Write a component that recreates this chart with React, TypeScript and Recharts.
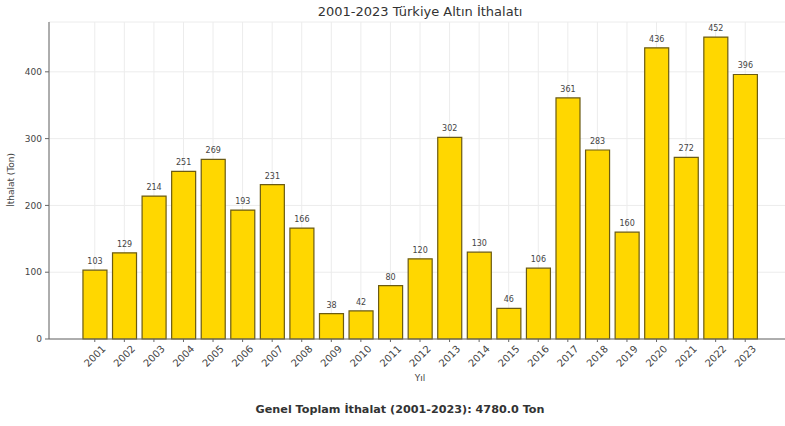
import { Bar, BarChart, CartesianGrid, LabelList, XAxis, YAxis } from "recharts";

const years = [
  "2001", "2002", "2003", "2004", "2005", "2006", "2007", "2008", "2009", "2010", "2011", "2012",
  "2013", "2014", "2015", "2016", "2017", "2018", "2019", "2020", "2021", "2022", "2023",
];
const imports = [
  103, 129, 214, 251, 269, 193, 231, 166, 38, 42, 80, 120,
  302, 130, 46, 106, 361, 283, 160, 436, 272, 452, 396,
];
const yTicks = [0, 100, 200, 300, 400];

const total = imports.reduce((a, b) => a + b, 0);
const data = years.map((year, i) => ({ year, value: imports[i] }));

const FONT = "'DejaVu Sans', sans-serif";
const AXIS_Y = 339;

const YearTick = (props: any) => {
  const { x, payload } = props;
  const cy = AXIS_Y + 17;
  return (
    <text
      x={x}
      y={cy}
      textAnchor="middle"
      dominantBaseline="central"
      transform={`rotate(-45, ${x}, ${cy})`}
      fontSize={10}
      fontFamily={FONT}
      fill="#444"
    >
      {payload.value}
    </text>
  );
};

export default function App() {
  return (
    <div
      style={{
        position: "absolute",
        left: 0,
        top: 0,
        width: 785,
        height: 426,
        overflow: "hidden",
        background: "#fff",
        fontFamily: FONT,
      }}
    >
      <BarChart
        width={790}
        height={426}
        data={data}
        margin={{ top: 22, right: 0, left: 0, bottom: 0 }}
        barCategoryGap="10%"
      >
        <CartesianGrid stroke="#ececec" strokeWidth={1} />
        <XAxis
          dataKey="year"
          height={87}
          padding={{ left: 31, right: 30 }}
          axisLine={{ stroke: "#666", strokeWidth: 1 }}
          tickLine={{ stroke: "#666" }}
          tickSize={3}
          interval={0}
          tick={<YearTick />}
        />
        <YAxis
          width={49}
          domain={[0, 474.6]}
          ticks={yTicks}
          axisLine={{ stroke: "#666", strokeWidth: 1 }}
          tickLine={{ stroke: "#666" }}
          tickSize={4}
          tickMargin={3}
          tick={{ fontSize: 9, fontFamily: FONT, fill: "#444" }}
        />
        <Bar
          dataKey="value"
          fill="#FFD700"
          stroke="#6b5b12"
          strokeWidth={1.2}
          isAnimationActive={false}
        >
          <LabelList
            dataKey="value"
            position="top"
            offset={6}
            fontSize={8}
            fontFamily={FONT}
            fill="#444"
          />
        </Bar>
      </BarChart>

      <div
        style={{
          position: "absolute",
          left: 0,
          width: 840,
          top: 4,
          textAlign: "center",
          fontSize: 13,
          color: "#333",
        }}
      >
        2001-2023 Türkiye Altın İthalatı
      </div>
      <div
        style={{
          position: "absolute",
          left: 11,
          top: 180,
          fontSize: 9,
          color: "#444",
          whiteSpace: "nowrap",
          transform: "translate(-50%, -50%) rotate(-90deg)",
        }}
      >
        İthalat (Ton)
      </div>
      <div
        style={{
          position: "absolute",
          left: 0,
          width: 840,
          top: 373,
          textAlign: "center",
          fontSize: 9,
          color: "#444",
        }}
      >
        Yıl
      </div>
      <div
        style={{
          position: "absolute",
          left: 0,
          width: 800,
          top: 403,
          textAlign: "center",
          fontSize: 11.2,
          fontWeight: "bold",
          color: "#333",
        }}
      >
        Genel Toplam İthalat (2001-2023): {total.toFixed(1)} Ton
      </div>
    </div>
  );
}
